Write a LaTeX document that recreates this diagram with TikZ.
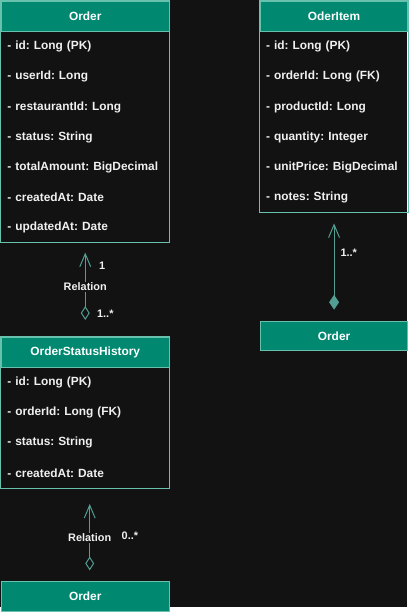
\documentclass[tikz,border=0pt]{standalone}
\usepackage{fontspec}
\setmainfont{Liberation Sans}
\usepackage{xcolor}
\usetikzlibrary{arrows.meta,positioning,fit}
\frenchspacing

\definecolor{bgdark}{RGB}{18,18,18}
\definecolor{headfill}{RGB}{0,136,112}
\definecolor{boxline}{RGB}{103,193,173}
\definecolor{edgeline}{RGB}{82,158,146}
\definecolor{textlight}{RGB}{240,240,240}

\begin{document}
\begin{tikzpicture}[
    header/.style={rectangle, draw=boxline, fill=headfill, text=white, line width=1pt, minimum width=169pt, minimum height=30pt, inner sep=0pt, font=\fontsize{12pt}{14pt}\selectfont\bfseries},
    itemheader/.style={header, minimum width=149pt},
    field/.style={rectangle, text=textlight, text width=157pt, align=left, inner xsep=6pt, inner ysep=0pt, minimum height=30pt, font=\fontsize{12pt}{14pt}\selectfont\bfseries},
    itemfield/.style={field, text width=137pt},
    classbox/.style={rectangle, draw=boxline, line width=1pt, inner sep=0pt},
    rel/.style={fill=bgdark, text=textlight, inner sep=1pt, font=\fontsize{11pt}{13pt}\selectfont\bfseries},
    mult/.style={text=textlight, inner sep=0pt, font=\fontsize{11pt}{13pt}\selectfont\bfseries},
    line/.style={draw=edgeline, line width=1pt}
]
    % Background
    \fill [bgdark] (0,0) rectangle (411pt,-612pt);

    % Order
    \node [header, anchor=north west] (orderHead) at (1pt,-1pt) {Order};
    \node [field, below=0pt of orderHead] (orderF1) {- id: Long (PK)};
    \node [field, below=0pt of orderF1] (orderF2) {- userId: Long};
    \node [field, below=0pt of orderF2] (orderF3) {- restaurantId: Long};
    \node [field, below=0pt of orderF3] (orderF4) {- status: String};
    \node [field, below=0pt of orderF4] (orderF5) {- totalAmount: BigDecimal};
    \node [field, below=0pt of orderF5] (orderF6) {- createdAt: Date};
    \node [field, below=0pt of orderF6] (orderF7) {- updatedAt: Date};
    \node [classbox, fit=(orderHead)(orderF7)] (orderBox) {};

    % OderItem
    \node [itemheader, right=91pt of orderHead] (itemHead) {OderItem};
    \node [itemfield, below=0pt of itemHead] (itemF1) {- id: Long (PK)};
    \node [itemfield, below=0pt of itemF1] (itemF2) {- orderId: Long (FK)};
    \node [itemfield, below=0pt of itemF2] (itemF3) {- productId: Long};
    \node [itemfield, below=0pt of itemF3] (itemF4) {- quantity: Integer};
    \node [itemfield, below=0pt of itemF4] (itemF5) {- unitPrice: BigDecimal};
    \node [itemfield, below=0pt of itemF5] (itemF6) {- notes: String};
    \node [classbox, fit=(itemHead)(itemF6)] (itemBox) {};

    % OrderStatusHistory
    \node [header, below=95pt of orderF7] (histHead) {OrderStatusHistory};
    \node [field, below=0pt of histHead] (histF1) {- id: Long (PK)};
    \node [field, below=0pt of histF1] (histF2) {- orderId: Long (FK)};
    \node [field, below=0pt of histF2] (histF3) {- status: String};
    \node [field, below=0pt of histF3] (histF4) {- createdAt: Date};
    \node [classbox, fit=(histHead)(histF4)] (histBox) {};

    % single Order boxes
    \node [header, below=94pt of histF4] (orderBot) {Order};
    \node [itemheader, below=109pt of itemF6] (orderRight) {Order};

    % Edges
    \path [line, {Diamond[open, length=14pt, width=9pt]}-{Straight Barb[length=13pt, width=11pt]}, shorten <=17pt, shorten >=10pt]
        (histHead.north) -- node [rel, pos=0.53] {Relation}
        node [mult, pos=0.758, anchor=west, xshift=13.5pt] {1}
        node [mult, pos=0.24, anchor=west, xshift=11.5pt] {1..*} (orderF7.south);
    \path [line, {Diamond[open, length=14pt, width=9pt]}-{Straight Barb[length=13pt, width=11pt]}, shorten <=11pt, shorten >=16pt]
        ([xshift=4.5pt]orderBot.north) -- node [rel, pos=0.468] {Relation}
        node [mult, pos=0.49, anchor=west, xshift=31.8pt] {0..*} ([xshift=4.5pt]histF4.south);
    \path [line, {Diamond[length=15pt, width=10pt]}-{Straight Barb[length=13pt, width=11pt]}, shorten <=11pt, shorten >=11pt]
        (orderRight.north) -- node [mult, pos=0.624, anchor=west, xshift=6pt] {1..*} (itemF6.south);
\end{tikzpicture}
\end{document}
